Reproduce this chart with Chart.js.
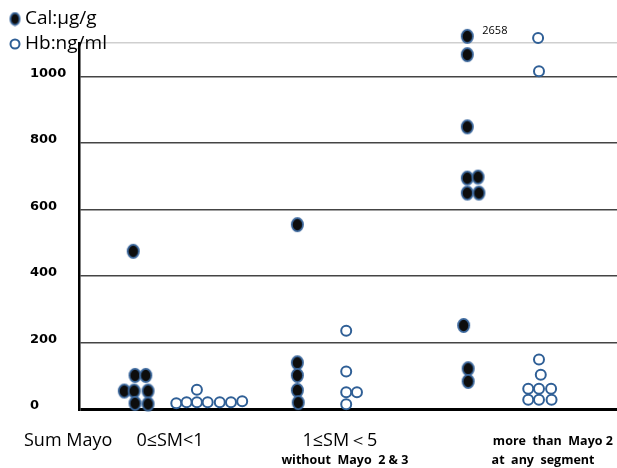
<!DOCTYPE html>
<html>
<head>
<meta charset="utf-8">
<script src="https://cdn.jsdelivr.net/npm/chart.js@4.4.1/dist/chart.umd.min.js"></script>
<style>
  html, body { margin: 0; padding: 0; background: #fff; }
  #wrap { width: 617px; height: 468px; }
</style>
</head>
<body>
<div id="wrap"><canvas id="chart" width="617" height="468"></canvas></div>
<script>
// nama seri
const seriesNames = ["Cal:µg/g", "Hb:ng/ml"];

// Cal: posisi x = kelompok + sebaran, y = nilai
const calX = [1.01, 1.25, 1.49, 1.23, 1.54, 1.25, 1.54, 1.21,
  4.87, 4.87, 4.87, 4.87, 4.89,
  8.66, 8.66, 8.66, 8.66, 8.90, 8.66, 8.92, 8.58, 8.68, 8.68];
const calY = [54, 101, 101, 54, 54, 17, 15, 474,
  554, 139, 101, 56, 19,
  2658, 1065, 848, 694, 697, 649, 649, 251, 121, 83];

// Hb
const hbX = [2.17, 2.40, 2.63, 2.63, 2.87, 3.14, 3.39, 3.64,
  5.96, 5.96, 5.96, 6.20, 5.96,
  10.24, 10.26, 10.26, 10.30, 10.02, 10.26, 10.53, 10.02, 10.26, 10.54];
const hbY = [17, 20, 20, 58, 20, 20, 20, 23,
  235, 113, 50, 50, 14,
  1115, 1015, 149, 103, 61, 61, 61, 28, 28, 28];

const yTicks = [0, 200, 400, 600, 800, 1000, 1100];
const axisTitle = "Sum Mayo";
const groupLabels = ["0≤SM<1", "1≤SM＜5", "more  than  Mayo 2"];
const groupSubLabels = ["", "without  Mayo  2 & 3", "at  any  segment"];

const Y_CAP = 1120; // nilai di luar skala digambar di atas

// posisi tengah label kelompok (satuan sumbu x)
const labelPos = [2.03, 5.82, 10.57];
const subLabelPos = [0, 5.93, 10.35];

const calColor = "#0d0d0d";
const calBorder = "#3b679c";
const hbBorder = "#2f5f96";

// titik oval untuk Cal
function makeOval(rx, ry) {
  const c = document.createElement("canvas");
  c.width = Math.ceil(rx * 2 + 3);
  c.height = Math.ceil(ry * 2 + 3);
  const g = c.getContext("2d");
  g.beginPath();
  g.ellipse(c.width / 2, c.height / 2, rx, ry, 0, 0, Math.PI * 2);
  g.fillStyle = calColor;
  g.fill();
  g.lineWidth = 1.8;
  g.strokeStyle = calBorder;
  g.stroke();
  return c;
}
const calDot = makeOval(5.6, 6.6);
const calLegendDot = makeOval(4.6, 6);

const labelsPlugin = {
  id: "labels",
  afterDraw(chart) {
    const c = chart.ctx;
    const xs = chart.scales.x;
    const ys = chart.scales.y;
    c.save();

    // legenda
    c.drawImage(calLegendDot, 15 - calLegendDot.width / 2, 19 - calLegendDot.height / 2);
    c.beginPath();
    c.arc(15, 44, 4.5, 0, Math.PI * 2);
    c.lineWidth = 2;
    c.strokeStyle = hbBorder;
    c.fillStyle = "#fff";
    c.fill();
    c.stroke();
    c.fillStyle = "#000";
    c.font = "19px 'Open Sans'";
    c.textBaseline = "middle";
    c.textAlign = "left";
    c.fillText(seriesNames[0], 25, 19);
    c.fillText(seriesNames[1], 25, 44);

    // nilai yang dipotong
    calY.forEach((v, i) => {
      if (v > Y_CAP) {
        c.font = "11px 'Open Sans'";
        c.fillText(String(v), xs.getPixelForValue(calX[i]) + 15, ys.getPixelForValue(Y_CAP) - 5);
      }
    });

    // label kelompok
    c.font = "18px 'Open Sans'";
    c.fillText(axisTitle, 24, 441);
    c.textAlign = "center";
    groupLabels.forEach((t, i) => {
      c.font = i === 2 ? "bold 12.5px 'Open Sans'" : "18px 'Open Sans'";
      c.fillText(t, xs.getPixelForValue(labelPos[i]), 441);
    });
    c.font = "bold 12.5px 'Open Sans'";
    groupSubLabels.forEach((t, i) => {
      if (t) c.fillText(t, xs.getPixelForValue(subLabelPos[i]), 460);
    });
    c.restore();
  },
};

new Chart(document.getElementById("chart"), {
  type: "scatter",
  data: {
    datasets: [
      {
        label: seriesNames[0],
        data: calX.map((x, i) => ({ x: x, y: Math.min(calY[i], Y_CAP) })),
        pointStyle: calDot,
        pointRadius: 7,
        clip: false,
      },
      {
        label: seriesNames[1],
        data: hbX.map((x, i) => ({ x: x, y: hbY[i] })),
        pointStyle: "circle",
        pointRadius: 5,
        borderWidth: 2,
        borderColor: hbBorder,
        backgroundColor: "#fff",
        clip: false,
      },
    ],
  },
  options: {
    responsive: false,
    animation: false,
    layout: {
      autoPadding: false,
      padding: { left: 30, top: 43, right: 0, bottom: 59 },
    },
    plugins: {
      legend: { display: false },
      tooltip: { enabled: false },
    },
    scales: {
      x: {
        type: "linear",
        min: 0,
        max: 12,
        display: false,
      },
      y: {
        min: 0,
        max: 1100,
        afterBuildTicks: (s) => {
          s.ticks = yTicks.map((v) => ({ value: v }));
        },
        afterFit: (s) => {
          s.width = 49;
        },
        grid: {
          drawTicks: false,
          color: (c) =>
            c.tick.value === 0 ? "#000" : c.tick.value === 1100 ? "#cfcfcf" : "#444",
          lineWidth: (c) => (c.tick.value === 0 ? 3 : 1.5),
        },
        border: { color: "#000", width: 2.5 },
        ticks: {
          crossAlign: "far",
          padding: 14,
          labelOffset: -3,
          color: "#000",
          font: { family: "DejaVu Sans", weight: "bold", size: 13 },
          callback: (v) => (v === 1100 ? "" : v),
        },
      },
    },
  },
  plugins: [labelsPlugin],
});
</script>
</body>
</html>
